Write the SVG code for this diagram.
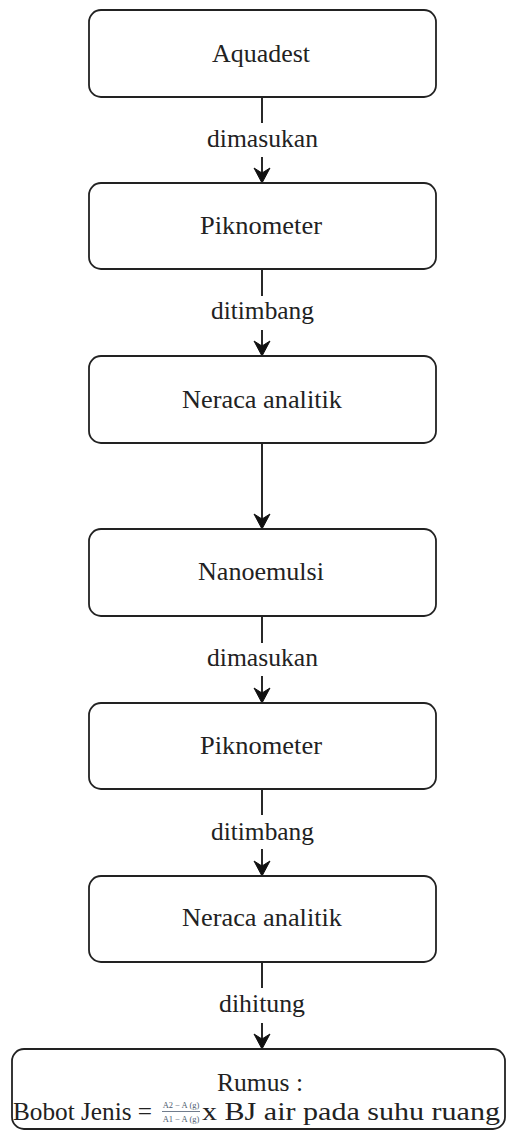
<svg xmlns="http://www.w3.org/2000/svg" width="506" height="1133" viewBox="0 0 506 1133">
<style>
.box{fill:#fff;stroke:#222;stroke-width:1.8}
.t{font-size:26px;fill:#222;text-anchor:middle}
.ln{stroke:#111;stroke-width:1.8;fill:none}
.ah{fill:#111;stroke:#111;stroke-width:1}
.fr{font-size:8.5px;fill:#4d5b6e;text-anchor:middle}
</style>
<defs>
<path id="arrow" d="M0,0 L-8,-15 L0,-10 L8,-15 Z"/>
</defs>
<rect width="506" height="1133" fill="#fff"/>
<g id="connectors" font-family="'Liberation Serif', 'DejaVu Serif', serif">
<line class="ln" x1="262" y1="97" x2="262" y2="123"/>
<text class="t" x="262.5" y="147" textLength="111" lengthAdjust="spacingAndGlyphs">dimasukan</text>
<line class="ln" x1="262" y1="157" x2="262" y2="175"/>
<use href="#arrow" class="ah" x="262" y="183"/>

<line class="ln" x1="262" y1="269" x2="262" y2="296"/>
<text class="t" x="262.5" y="319" textLength="103" lengthAdjust="spacingAndGlyphs">ditimbang</text>
<line class="ln" x1="262" y1="330" x2="262" y2="348"/>
<use href="#arrow" class="ah" x="262" y="356"/>

<line class="ln" x1="262" y1="443" x2="262" y2="521"/>
<use href="#arrow" class="ah" x="262" y="529"/>

<line class="ln" x1="262" y1="616" x2="262" y2="643"/>
<text class="t" x="262.5" y="666" textLength="111" lengthAdjust="spacingAndGlyphs">dimasukan</text>
<line class="ln" x1="262" y1="676" x2="262" y2="695"/>
<use href="#arrow" class="ah" x="262" y="703"/>

<line class="ln" x1="262" y1="789" x2="262" y2="815"/>
<text class="t" x="262.5" y="840" textLength="103" lengthAdjust="spacingAndGlyphs">ditimbang</text>
<line class="ln" x1="262" y1="849" x2="262" y2="868"/>
<use href="#arrow" class="ah" x="262" y="876"/>

<line class="ln" x1="262" y1="962" x2="262" y2="988"/>
<text class="t" x="262" y="1012" textLength="86" lengthAdjust="spacingAndGlyphs">dihitung</text>
<line class="ln" x1="262" y1="1023" x2="262" y2="1041"/>
<use href="#arrow" class="ah" x="262" y="1049"/>
</g>
<g id="n1" font-family="'Liberation Serif', 'DejaVu Serif', serif">
<rect class="box" x="89" y="10" width="347" height="87" rx="12"/>
<text class="t" x="261" y="62" textLength="98" lengthAdjust="spacingAndGlyphs">Aquadest</text>
</g>
<g id="n2" font-family="'Liberation Serif', 'DejaVu Serif', serif">
<rect class="box" x="89" y="183" width="347" height="86" rx="12"/>
<text class="t" x="261" y="234" textLength="122" lengthAdjust="spacingAndGlyphs">Piknometer</text>
</g>
<g id="n3" font-family="'Liberation Serif', 'DejaVu Serif', serif">
<rect class="box" x="89" y="356" width="347" height="87" rx="12"/>
<text class="t" x="262" y="408" textLength="160" lengthAdjust="spacingAndGlyphs">Neraca analitik</text>
</g>
<g id="n4" font-family="'Liberation Serif', 'DejaVu Serif', serif">
<rect class="box" x="89" y="529" width="347" height="87" rx="12"/>
<text class="t" x="261" y="580" textLength="126" lengthAdjust="spacingAndGlyphs">Nanoemulsi</text>
</g>
<g id="n5" font-family="'Liberation Serif', 'DejaVu Serif', serif">
<rect class="box" x="89" y="703" width="347" height="86" rx="12"/>
<text class="t" x="261" y="754" textLength="122" lengthAdjust="spacingAndGlyphs">Piknometer</text>
</g>
<g id="n6" font-family="'Liberation Serif', 'DejaVu Serif', serif">
<rect class="box" x="89" y="876" width="347" height="86" rx="12"/>
<text class="t" x="262" y="926" textLength="160" lengthAdjust="spacingAndGlyphs">Neraca analitik</text>
</g>
<g id="n7" font-family="'Liberation Serif', 'DejaVu Serif', serif">
<rect class="box" x="12" y="1049" width="493" height="80" rx="12"/>
<text class="t" x="260" y="1091" font-size="22" textLength="86" lengthAdjust="spacingAndGlyphs">Rumus :</text>
<text class="t" x="13" y="1120" font-size="22" style="text-anchor:start" textLength="139" lengthAdjust="spacingAndGlyphs">Bobot Jenis =</text>
<text class="fr" x="181" y="1108">A2 − A (g)</text>
<line x1="162" y1="1111.5" x2="200" y2="1111.5" stroke="#4d5b6e" stroke-width="0.8"/>
<text class="fr" x="181" y="1122">A1 − A (g)</text>
<text class="t" x="202" y="1120" font-size="22" style="text-anchor:start" textLength="298" lengthAdjust="spacingAndGlyphs">x BJ air pada suhu ruang</text>
</g>
</svg>
